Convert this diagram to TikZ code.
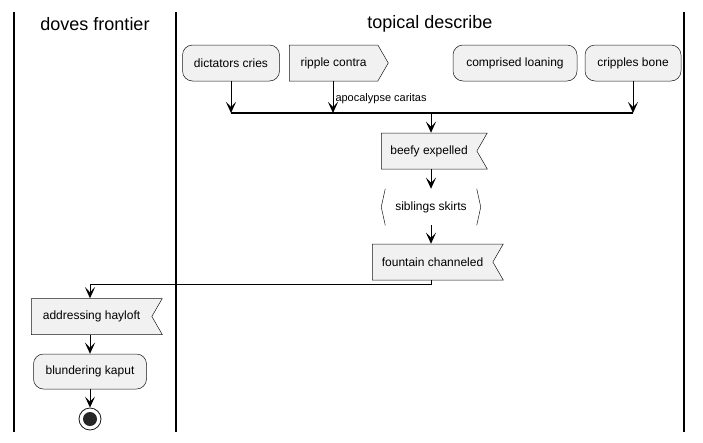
\documentclass[tikz,border=0pt]{standalone}
\usepackage{fontspec}
\setmainfont{Liberation Sans}
\usetikzlibrary{arrows.meta,shapes.symbols}
\definecolor{boxfill}{HTML}{F1F1F1}
\definecolor{boxline}{HTML}{181818}
\tikzset{
  base/.style={draw=boxline,fill=boxfill,line width=0.5pt,minimum height=36pt,inner sep=0pt,font=\fontsize{12}{14}\selectfont},
  act/.style={base,rounded corners=10pt},
  sendsig/.style={base,signal,signal to=east,signal from=nowhere,signal pointer angle=120},
  recvsig/.style={base,signal,signal from=east,signal to=nowhere,signal pointer angle=120},
  flow/.style={-{Stealth[length=11pt,width=10pt,inset=5pt]},line width=1pt},
  lane/.style={line width=1.2pt},
  title/.style={font=\fontsize{18}{20}\selectfont},
}
\begin{document}
\begin{tikzpicture}[x=1pt,y=-1pt]
\useasboundingbox (0,0) rectangle (703,442);
% swimlanes
\draw[lane] (14,12) -- (14,432);
\draw[lane] (176,12) -- (176,432);
\draw[lane] (684,12) -- (684,432);
\node[title] (doves) at (95,24) {doves frontier};
\node[title] (topical) at (430,24) {topical describe};

% activities
\node[act,minimum width=97pt] (dict) at (231,63) {dictators cries};
\node[sendsig,minimum width=99pt,anchor=west] (ripple) at (289,63) {ripple contra};
\node[act,minimum width=124pt] (comp) at (515,63) {comprised loaning};
\node[act,minimum width=96pt] (crip) at (633,63) {cripples bone};
\node[recvsig,minimum width=106pt,anchor=west] (beefy) at (381,151) {beefy expelled};
\node[base,draw=none,fill=none,minimum width=99pt] (sib) at (431,207) {siblings skirts};
\node[recvsig,minimum width=131pt,anchor=west] (fount) at (372,262) {fountain channeled};
\node[recvsig,minimum width=131pt,anchor=west] (addr) at (31,316.5) {addressing hayloft};
\node[act,minimum width=113pt,minimum height=35pt] (blund) at (90,371.5) {blundering kaput};
\node[circle,draw=boxline,line width=0.8pt,fill=white,minimum size=22pt,inner sep=0pt] (stop) at (90,419) {};
\fill[black!85] (stop) circle (7pt);

% brackets of siblings skirts
\draw[boxline,line width=0.5pt] ([xshift=4pt]sib.north west) -- (sib.west) -- ([xshift=4pt]sib.south west);
\draw[boxline,line width=0.5pt] ([xshift=-4pt]sib.north east) -- (sib.east) -- ([xshift=-4pt]sib.south east);

% join bar
\coordinate (bar1) at (231,113);
\coordinate (bar2) at (333,113);
\coordinate (barM) at (431,113);
\coordinate (bar3) at (633,113);
\draw[line width=2pt] (bar1) -- (bar3);

\draw[flow] (dict) -- (bar1);
\draw[flow] (ripple.south -| bar2) -- node[right,pos=0.55,inner sep=2pt,font=\fontsize{11}{12}\selectfont] {apocalypse caritas} (bar2);
\draw[flow] (crip) -- (bar3);
\draw[flow] (barM) -- (barM |- beefy.north);
\draw[flow] (beefy.south -| barM) -- (sib);
\draw[flow] (sib) -- (fount.north -| barM);
\coordinate (turn) at (90,284);
\draw[flow] (fount.south -| barM) |- (turn) -- (turn |- addr.north);
\draw[flow] (addr.south -| blund) -- (blund);
\draw[flow] (blund) -- (stop);
\end{tikzpicture}
\end{document}
